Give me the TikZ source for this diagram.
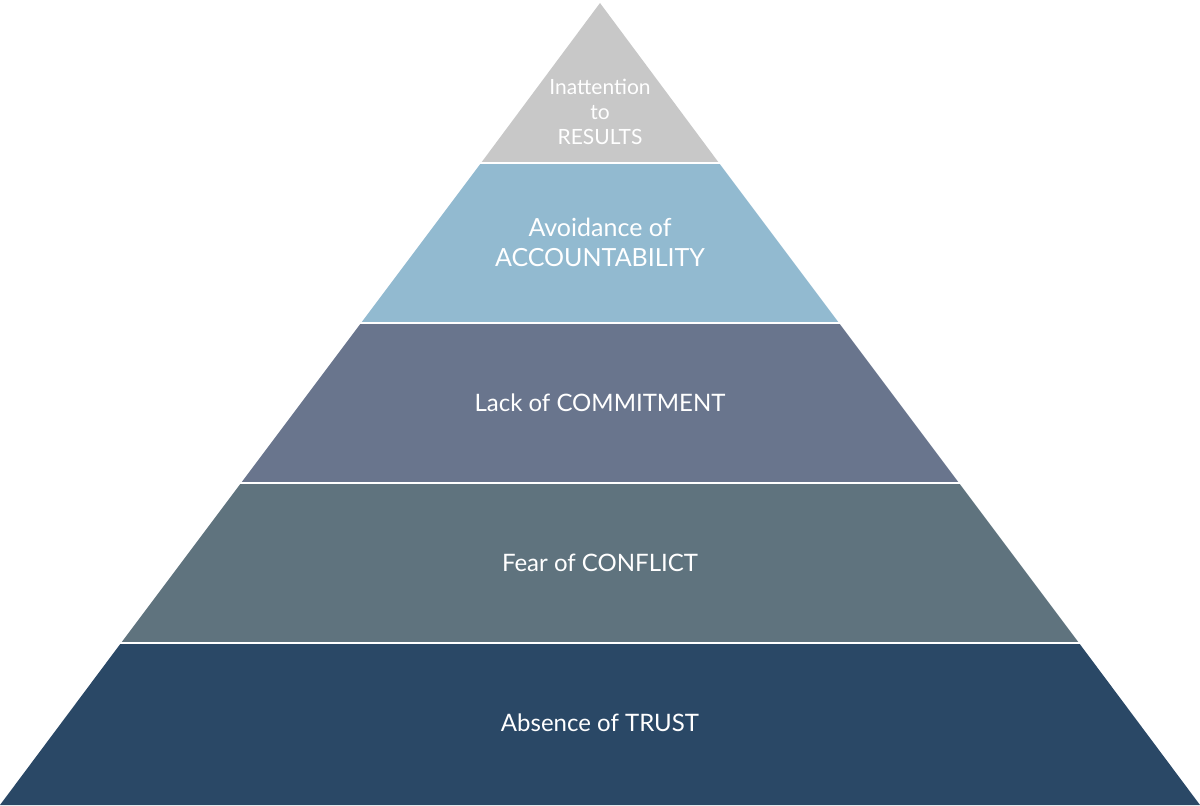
\documentclass[tikz,border=0pt]{standalone}
\usepackage{fontspec}
\setmainfont{Lato}
\definecolor{c1}{HTML}{C8C8C8}
\definecolor{c2}{HTML}{92BAD0}
\definecolor{c3}{HTML}{69758D}
\definecolor{c4}{HTML}{5F737E}
\definecolor{c5}{HTML}{2A4866}
\begin{document}
\begin{tikzpicture}[x=0.5pt,y=-0.5pt,
  lbl/.style={text=white,align=center,font=\fontsize{12}{13}\selectfont},
  sep/.style={draw=white,line width=1pt}]
\useasboundingbox (0,0) rectangle (1200,806);
\fill[c1] (600,3) -- (481,163) -- (719,163) -- cycle;
\fill[c2] (481,163) -- (361,323) -- (839,323) -- (719,163) -- cycle;
\fill[c3] (361,323) -- (241,483) -- (959,483) -- (839,323) -- cycle;
\fill[c4] (241,483) -- (121,643) -- (1079,643) -- (959,483) -- cycle;
\fill[c5] (121,643) -- (0,805) -- (1200,805) -- (1079,643) -- cycle;
\foreach \y in {163,323,483,643} \draw[sep] (0,\y) -- (1200,\y);
\node[lbl,font=\fontsize{10.5}{12.5}\selectfont] (t1) at (600,112) {Inattention\\to\\RESULTS};
\node[lbl,font=\fontsize{12.5}{15}\selectfont] (t2) at (600,242) {Avoidance of\\ACCOUNTABILITY};
\node[lbl] (t3) at (600,403) {Lack of COMMITMENT};
\node[lbl] (t4) at (600,563) {Fear of CONFLICT};
\node[lbl] (t5) at (600,723) {Absence of TRUST};
\end{tikzpicture}
\end{document}
